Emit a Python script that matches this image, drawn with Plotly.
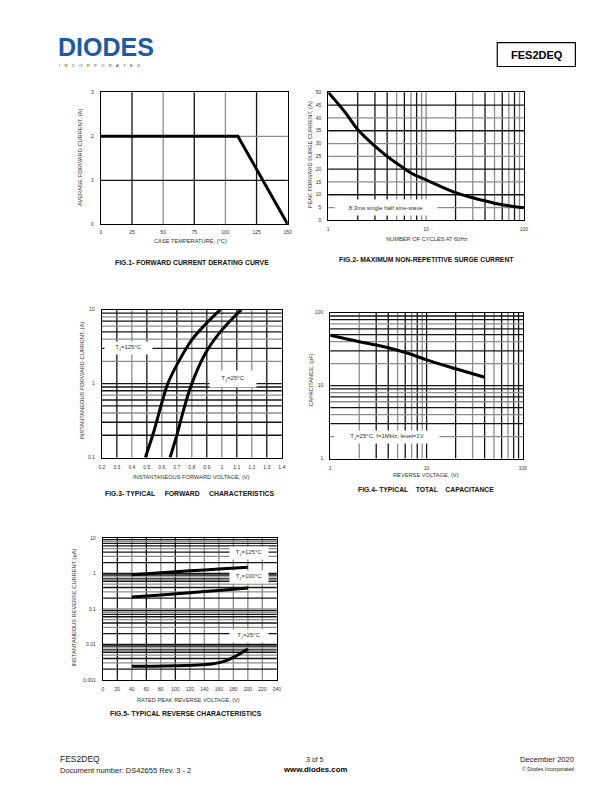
import numpy as np
import plotly.graph_objects as go

W, H = 612, 792
FONT = "Liberation Sans, Arial, sans-serif"
K = "#151515"
G = "#8c8c8c"
TXT = "#333333"

# ---------------- data ----------------
# Fig 1 forward current derating
fig1_temp = [0, 110, 150]
fig1_current = [2, 2, 0]
fig1_xticks = [0, 25, 50, 75, 100, 125, 150]
fig1_yticks = [0, 1, 2, 3]

# Fig 2 max non-repetitive surge current
fig2_cycles = [1, 1.5, 2, 3, 4, 5, 7, 10, 20, 30, 50, 70, 100]
fig2_current = [50, 42, 35.5, 29, 25, 22.3, 18.5, 15.8, 10.8, 8.8, 6.7, 5.7, 4.9]
fig2_xticks = [1, 10, 100]
fig2_yticks = [0, 5, 10, 15, 20, 25, 30, 35, 40, 45, 50]

# Fig 3 typical forward characteristics
fig3_v_125 = [0.49, 0.545, 0.60, 0.64, 0.71, 0.80, 0.89, 0.99]
fig3_i_125 = [0.1, 0.22, 0.55, 1.0, 1.95, 3.9, 6.3, 10]
fig3_v_25 = [0.655, 0.70, 0.745, 0.80, 0.89, 0.99, 1.13]
fig3_i_25 = [0.1, 0.2, 0.44, 1.0, 2.55, 5.0, 10]
fig3_xticks = [0.2, 0.3, 0.4, 0.5, 0.6, 0.7, 0.8, 0.9, 1.0, 1.1, 1.2, 1.3, 1.4]
fig3_xticktext = ["0.2", "0.3", "0.4", "0.5", "0.6", "0.7", "0.8", "0.9", "1", "1.1", "1.2", "1.3", "1.4"]
fig3_yticks = [0.1, 1, 10]

# Fig 4 typical total capacitance
fig4_v = [1, 2, 3, 4, 6.5, 10, 20, 40]
fig4_c = [49, 40, 36, 33, 27.5, 22.5, 17, 13]
fig4_xticks = [1, 10, 100]
fig4_yticks = [1, 10, 100]

# Fig 5 typical reverse characteristics
fig5_v_hot = [40, 80, 120, 160, 200]
fig5_i_125 = [0.92, 1.05, 1.18, 1.32, 1.48]
fig5_i_100 = [0.215, 0.245, 0.285, 0.33, 0.385]
fig5_v_25 = [40, 70, 100, 130, 150, 165, 180, 200]
fig5_i_25 = [0.0024, 0.00242, 0.00248, 0.0026, 0.0028, 0.0032, 0.0043, 0.0074]
fig5_xticks = [0, 20, 40, 60, 80, 100, 120, 140, 160, 180, 200, 220, 240]
fig5_yticks = [0.001, 0.01, 0.1, 1, 10]
fig5_yticktext = ["0.001", "0.01", "0.1", "1", "10"]

# ---------------- helpers ----------------
def xd(p0, p1):
    return [p0 / W, p1 / W]

def yd(top, bot):
    return [1 - bot / H, 1 - top / H]

def px(x):
    return x / W

def py(y):
    return 1 - y / H

def axis(domain, rng, typ, tickvals, ticktext, anchor, standoff):
    return dict(domain=domain, range=rng, type=typ, tickmode="array",
                tickvals=tickvals, ticktext=ticktext, anchor=anchor,
                showgrid=False, zeroline=False, showline=True, linecolor="#000",
                linewidth=1, mirror=True, ticks="", ticklabelstandoff=standoff,
                tickfont=dict(family=FONT, size=5, color=TXT), fixedrange=True)

shapes = []

def grid(n, vals, colors, vertical):
    xr = "x" if n == 1 else f"x{n}"
    yr = "y" if n == 1 else f"y{n}"
    for v, c in zip(vals, colors):
        if vertical:
            shapes.append(dict(type="line", xref=xr, yref=yr + " domain", x0=v, x1=v,
                               y0=0, y1=1, layer="below", line=dict(color=c, width=1.3)))
        else:
            shapes.append(dict(type="line", xref=xr + " domain", yref=yr, x0=0, x1=1,
                               y0=v, y1=v, layer="below", line=dict(color=c, width=1.3)))

def log_minor(decades):
    out = []
    for d in decades:
        out += [m * 10 ** d for m in range(2, 10)]
    return out

# grid lines
grid(1, [25, 50, 75, 100, 125], [K, G, K, G, K], True)
grid(1, [1, 2], [K, G], False)

g2v = [2, 3, 4, 5, 6, 7, 8, 9, 10, 20, 30, 40, 50, 60, 70, 80, 90]
grid(2, g2v, [K, K, K, G, K, G, K, G, G, K, G, K, G, K, G, K, G], True)
grid(2, [5, 10, 15, 20, 25, 30, 35, 40, 45], [G, K, G, K, G, G, K, G, K], False)

grid(3, [0.3, 0.4, 0.5, 0.6, 0.7, 0.8, 0.9, 1.0, 1.1, 1.2, 1.3],
     [K, G, K, G, K, G, K, G, K, G, K], True)
grid(3, log_minor([-1, 0]) + [1],
     [K, K, G, K, K, G, K, K, G, K, G, K, G, K, G, K, K], False)

grid(4, g2v, [G, K, K, G, K, G, K, G, K, K, G, K, G, K, G, K, K], True)
grid(4, log_minor([0, 1]) + [10],
     [G, K, G, K, G, K, G, K, G, K, G, K, K, G, K, K, K], False)

grid(5, [20, 40, 60, 80, 100, 120, 140, 160, 180, 200, 220],
     [K, G, K, G, K, G, G, G, G, G, G], True)
pat5 = [K, G, K, G, K, K, G, K]
grid(5, log_minor([-3, -2, -1, 0]) + [0.01, 0.1, 1],
     pat5 * 4 + [K, G, K], False)

# ---------------- figure ----------------
fig = go.Figure()
traces = [
    (fig1_temp, fig1_current, "x", "y", "linear"),
    (fig2_cycles, fig2_current, "x2", "y2", "spline"),
    (fig3_v_125, fig3_i_125, "x3", "y3", "spline"),
    (fig3_v_25, fig3_i_25, "x3", "y3", "spline"),
    (fig4_v, fig4_c, "x4", "y4", "spline"),
    (fig5_v_hot, fig5_i_125, "x5", "y5", "spline"),
    (fig5_v_hot, fig5_i_100, "x5", "y5", "spline"),
    (fig5_v_25, fig5_i_25, "x5", "y5", "spline"),
]
for xs, ys, xa, ya, shp in traces:
    fig.add_trace(go.Scatter(x=xs, y=ys, mode="lines",
                             line=dict(color="#000", width=3, shape=shp),
                             xaxis=xa, yaxis=ya, showlegend=False, hoverinfo="skip"))

layout = dict(
    width=W, height=H, margin=dict(l=0, r=0, t=0, b=0),
    paper_bgcolor="white", plot_bgcolor="white", showlegend=False,
    font=dict(family=FONT, color=TXT),
    xaxis=axis(xd(99, 288), [0, 150], "linear", fig1_xticks, [str(v) for v in fig1_xticks], "y", 3),
    yaxis=axis(yd(90, 223), [0, 3], "linear", fig1_yticks, [str(v) for v in fig1_yticks], "x", 5),
    xaxis2=axis(xd(329, 527), [0, 2], "log", fig2_xticks, [str(v) for v in fig2_xticks], "y2", 4),
    yaxis2=axis(yd(90, 219), [0, 50], "linear", fig2_yticks, [str(v) for v in fig2_yticks], "x2", 5),
    xaxis3=axis(xd(100, 282), [0.2, 1.4], "linear", fig3_xticks, fig3_xticktext, "y3", 4),
    yaxis3=axis(yd(309, 458), [-1, 1], "log", fig3_yticks, [str(v) for v in fig3_yticks], "x3", 5),
    xaxis4=axis(xd(331, 526), [0, 2], "log", fig4_xticks, [str(v) for v in fig4_xticks], "y4", 4),
    yaxis4=axis(yd(312, 459), [0, 2], "log", fig4_yticks, [str(v) for v in fig4_yticks], "x4", 5),
    xaxis5=axis(xd(101, 277), [0, 240], "linear", fig5_xticks, [str(v) for v in fig5_xticks], "y5", 4),
    yaxis5=axis(yd(539, 682), [-3, 1], "log", fig5_yticks, fig5_yticktext, "x5", 5),
)
fig.update_layout(**layout)

ann = []

def text(x, y, s, size=5.7, bold=False, angle=0, xanchor="center", color=TXT):
    if bold:
        s = "<b>" + s + "</b>"
    ann.append(dict(x=px(x), y=py(y), xref="paper", yref="paper", text=s, showarrow=False,
                    textangle=angle, xanchor=xanchor, yanchor="middle", borderpad=0,
                    font=dict(family=FONT, size=size, color=color)))

NB = "\u00a0"
CAP = 6.8
# axis titles and captions
text(190, 240, "CASE TEMPERATURE, (°C)")
text(78, 156, "AVERAGE FORWARD CURRENT, (A)", angle=-90)
text(191, 261, "FIG.1- FORWARD CURRENT DERATING CURVE", size=CAP, bold=True, color="#111")

text(428, 238, "NUMBER OF CYCLES AT 60Hz")
text(310, 153, "PEAK FORWARD SURGE CURRENT, (A)", angle=-90)
text(428, 258, "FIG.2- MAXIMUM NON-REPETITIVE SURGE CURRENT", size=CAP, bold=True, color="#111")

text(191, 478, "INSTANTANEOUS FORWARD VOLTAGE, (V)")
text(80, 380, "INSTANTANEOUS FORWARD CURRENT, (A)", angle=-90)
text(189, 494, "FIG.3- TYPICAL" + NB * 5 + "FORWARD" + NB * 5 + "CHARACTERISTICS", size=CAP, bold=True, color="#111")

text(428, 476, "REVERSE VOLTAGE, (V)")
text(312, 380, "CAPACITANCE, (pF)", angle=-90)
text(428, 490, "FIG.4- TYPICAL" + NB * 4 + "TOTAL" + NB * 4 + "CAPACITANCE", size=CAP, bold=True, color="#111")

text(188, 702, "RATED PEAK REVERSE VOLTAGE, (V)")
text(72, 609, "INSTANTANEOUS REVERSE CURRENT (µA)", angle=-90)
text(185, 716, "FIG.5- TYPICAL REVERSE CHARACTERISTICS", size=CAP, bold=True, color="#111")

# in-plot labels (white boxes interrupting the grid)
def label(n, x, y, s, w, h, logx=False, logy=False):
    xr = "x" if n == 1 else f"x{n}"
    yr = "y" if n == 1 else f"y{n}"
    ann.append(dict(x=np.log10(x) if logx else x, y=np.log10(y) if logy else y,
                    xref=xr, yref=yr, text=s, showarrow=False, width=w, height=h,
                    bgcolor="white", align="center", valign="middle",
                    font=dict(family=FONT, size=6, color=TXT)))

label(2, 3.9, 5, "8.3ms single half sine-wave", 100, 13, logx=True)
label(3, 0.375, 3, "T<sub>J</sub>=125°C", 45, 10, logy=True)
label(3, 1.075, 1.15, "T<sub>J</sub>=25°C", 44, 14, logy=True)
label(4, 3.9, 2, "T<sub>J</sub>=25°C, f=1MHz, level=1V", 102, 10, logx=True, logy=True)
label(5, 202, 3.7, "T<sub>J</sub>=125°C", 36, 10, logy=True)
label(5, 202, 0.79, "T<sub>J</sub>=100°C", 36, 10, logy=True)
label(5, 202, 0.0174, "T<sub>J</sub>=25°C", 36, 10, logy=True)

# header
text(55, 44, "DIODES", size=25, bold=True, xanchor="left", color="#1b5aa5")
text(56, 62.5, (NB * 4).join("INCORPORATED"), size=4, xanchor="left", color="#333")
text(540, 52, "FES2DEQ", size=11, bold=True, color="#000")
shapes.append(dict(type="rect", xref="paper", yref="paper", x0=px(500), x1=px(579),
                   y0=py(64), y1=py(40), line=dict(color="#000", width=1.2)))

# footer
text(57, 762, "FES2DEQ", size=8.5, xanchor="left", color="#222")
text(57, 773, "Document number: DS42655 Rev. 3 - 2", size=7.5, xanchor="left", color="#222")
text(316, 762, "3 of 5", size=7, color="#222")
text(316, 772, "www.diodes.com", size=7.8, bold=True, color="#000")
text(579, 762, "December 2020", size=7.6, xanchor="right", color="#222")
text(579, 772, "© Diodes Incorporated", size=5.2, xanchor="right", color="#222")

fig.update_layout(annotations=ann, shapes=shapes)
fig.write_html("out.html", config={"displayModeBar": False},
               post_script="document.body.style.margin='0';document.body.style.overflow='hidden';")
